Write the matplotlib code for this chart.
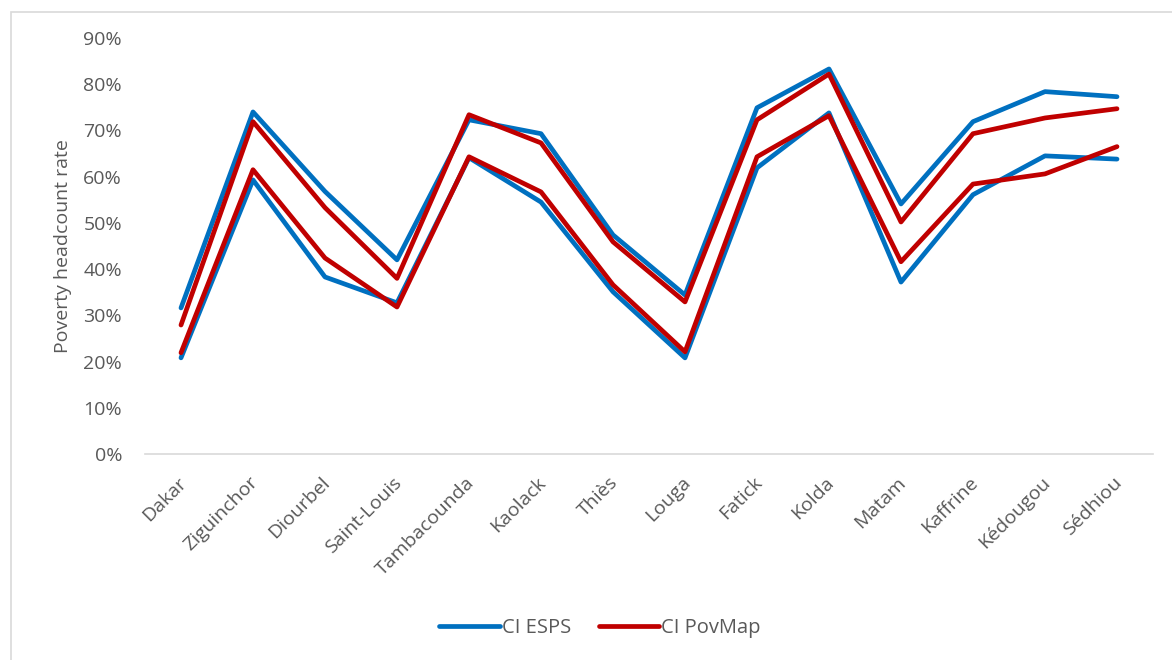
import matplotlib.pyplot as plt
from matplotlib.patches import Rectangle
from matplotlib.ticker import PercentFormatter
from matplotlib.transforms import ScaledTranslation

plt.rcParams['font.family'] = ['Open Sans', 'DejaVu Sans']

regions = ['Dakar', 'Ziguinchor', 'Diourbel', 'Saint-Louis', 'Tambacounda', 'Kaolack',
           'Thiès', 'Louga', 'Fatick', 'Kolda', 'Matam', 'Kaffrine', 'Kédougou', 'Sédhiou']

# confidence interval bounds (headcount rate, %)
esps_low = [20.8, 59.3, 38.3, 32.7, 64.1, 54.5, 35.1, 20.8, 61.9, 73.8, 37.2, 56.1, 64.5, 63.8]
esps_high = [31.6, 74.0, 56.8, 42.0, 72.3, 69.3, 47.4, 34.4, 74.9, 83.3, 54.1, 71.9, 78.4, 77.3]
povmap_low = [21.9, 61.5, 42.4, 31.8, 64.3, 56.7, 36.6, 22.1, 64.3, 73.2, 41.6, 58.4, 60.6, 66.5]
povmap_high = [27.9, 71.9, 53.3, 38.0, 73.4, 67.3, 45.9, 32.9, 72.3, 82.2, 50.2, 69.3, 72.7, 74.7]

blue = '#0070C0'
red = '#C00000'
grey = '#595959'

fig = plt.figure(figsize=(11.72, 6.60), dpi=100)
ax = fig.add_axes([145/1172, 1 - 454/660, (1153 - 145)/1172, (454 - 38)/660])

x = list(range(len(regions)))
lw = 3.4
ax.plot(x, esps_high, color=blue, lw=lw, solid_capstyle='round', label='CI ESPS')
ax.plot(x, esps_low, color=blue, lw=lw, solid_capstyle='round')
ax.plot(x, povmap_high, color=red, lw=lw, solid_capstyle='round', label='CI PovMap')
ax.plot(x, povmap_low, color=red, lw=lw, solid_capstyle='round')

ax.set_xlim(-0.5, len(regions) - 0.5)
ax.set_ylim(0, 90)
ax.set_yticks(range(0, 91, 10))
ax.yaxis.set_major_formatter(PercentFormatter(decimals=0))
ax.set_xticks(x)
ax.set_xticklabels(regions, rotation=45, ha='right', rotation_mode='anchor')
ax.tick_params(axis='both', length=0, colors=grey, labelsize=14)
ax.tick_params(axis='y', pad=16.5)
ax.tick_params(axis='x', pad=14)
# nudge the rotated labels so their ends sit under the ticks
shift = ScaledTranslation(-4/100, 0, fig.dpi_scale_trans)
for lbl in ax.get_xticklabels():
    lbl.set_transform(lbl.get_transform() + shift)

for side in ['top', 'right', 'left']:
    ax.spines[side].set_visible(False)
ax.spines['bottom'].set_color('#D9D9D9')
ax.spines['bottom'].set_linewidth(1.2)

ax.set_ylabel('Poverty headcount rate', color=grey, fontsize=14, labelpad=8)

leg = fig.legend(loc='center', bbox_to_anchor=(600/1172, 1 - 628/660), ncol=2,
                 frameon=False, fontsize=14.5, handlelength=3.0, handletextpad=0.1,
                 columnspacing=1.4)
for t in leg.get_texts():
    t.set_color(grey)

# chart frame
fig.patches.append(Rectangle((11/1172, -0.05), 1.2, 1 - 12/660 + 0.05,
                             transform=fig.transFigure, fill=False,
                             edgecolor='#D9D9D9', lw=1.2))

fig.savefig('out.png', dpi=100)
